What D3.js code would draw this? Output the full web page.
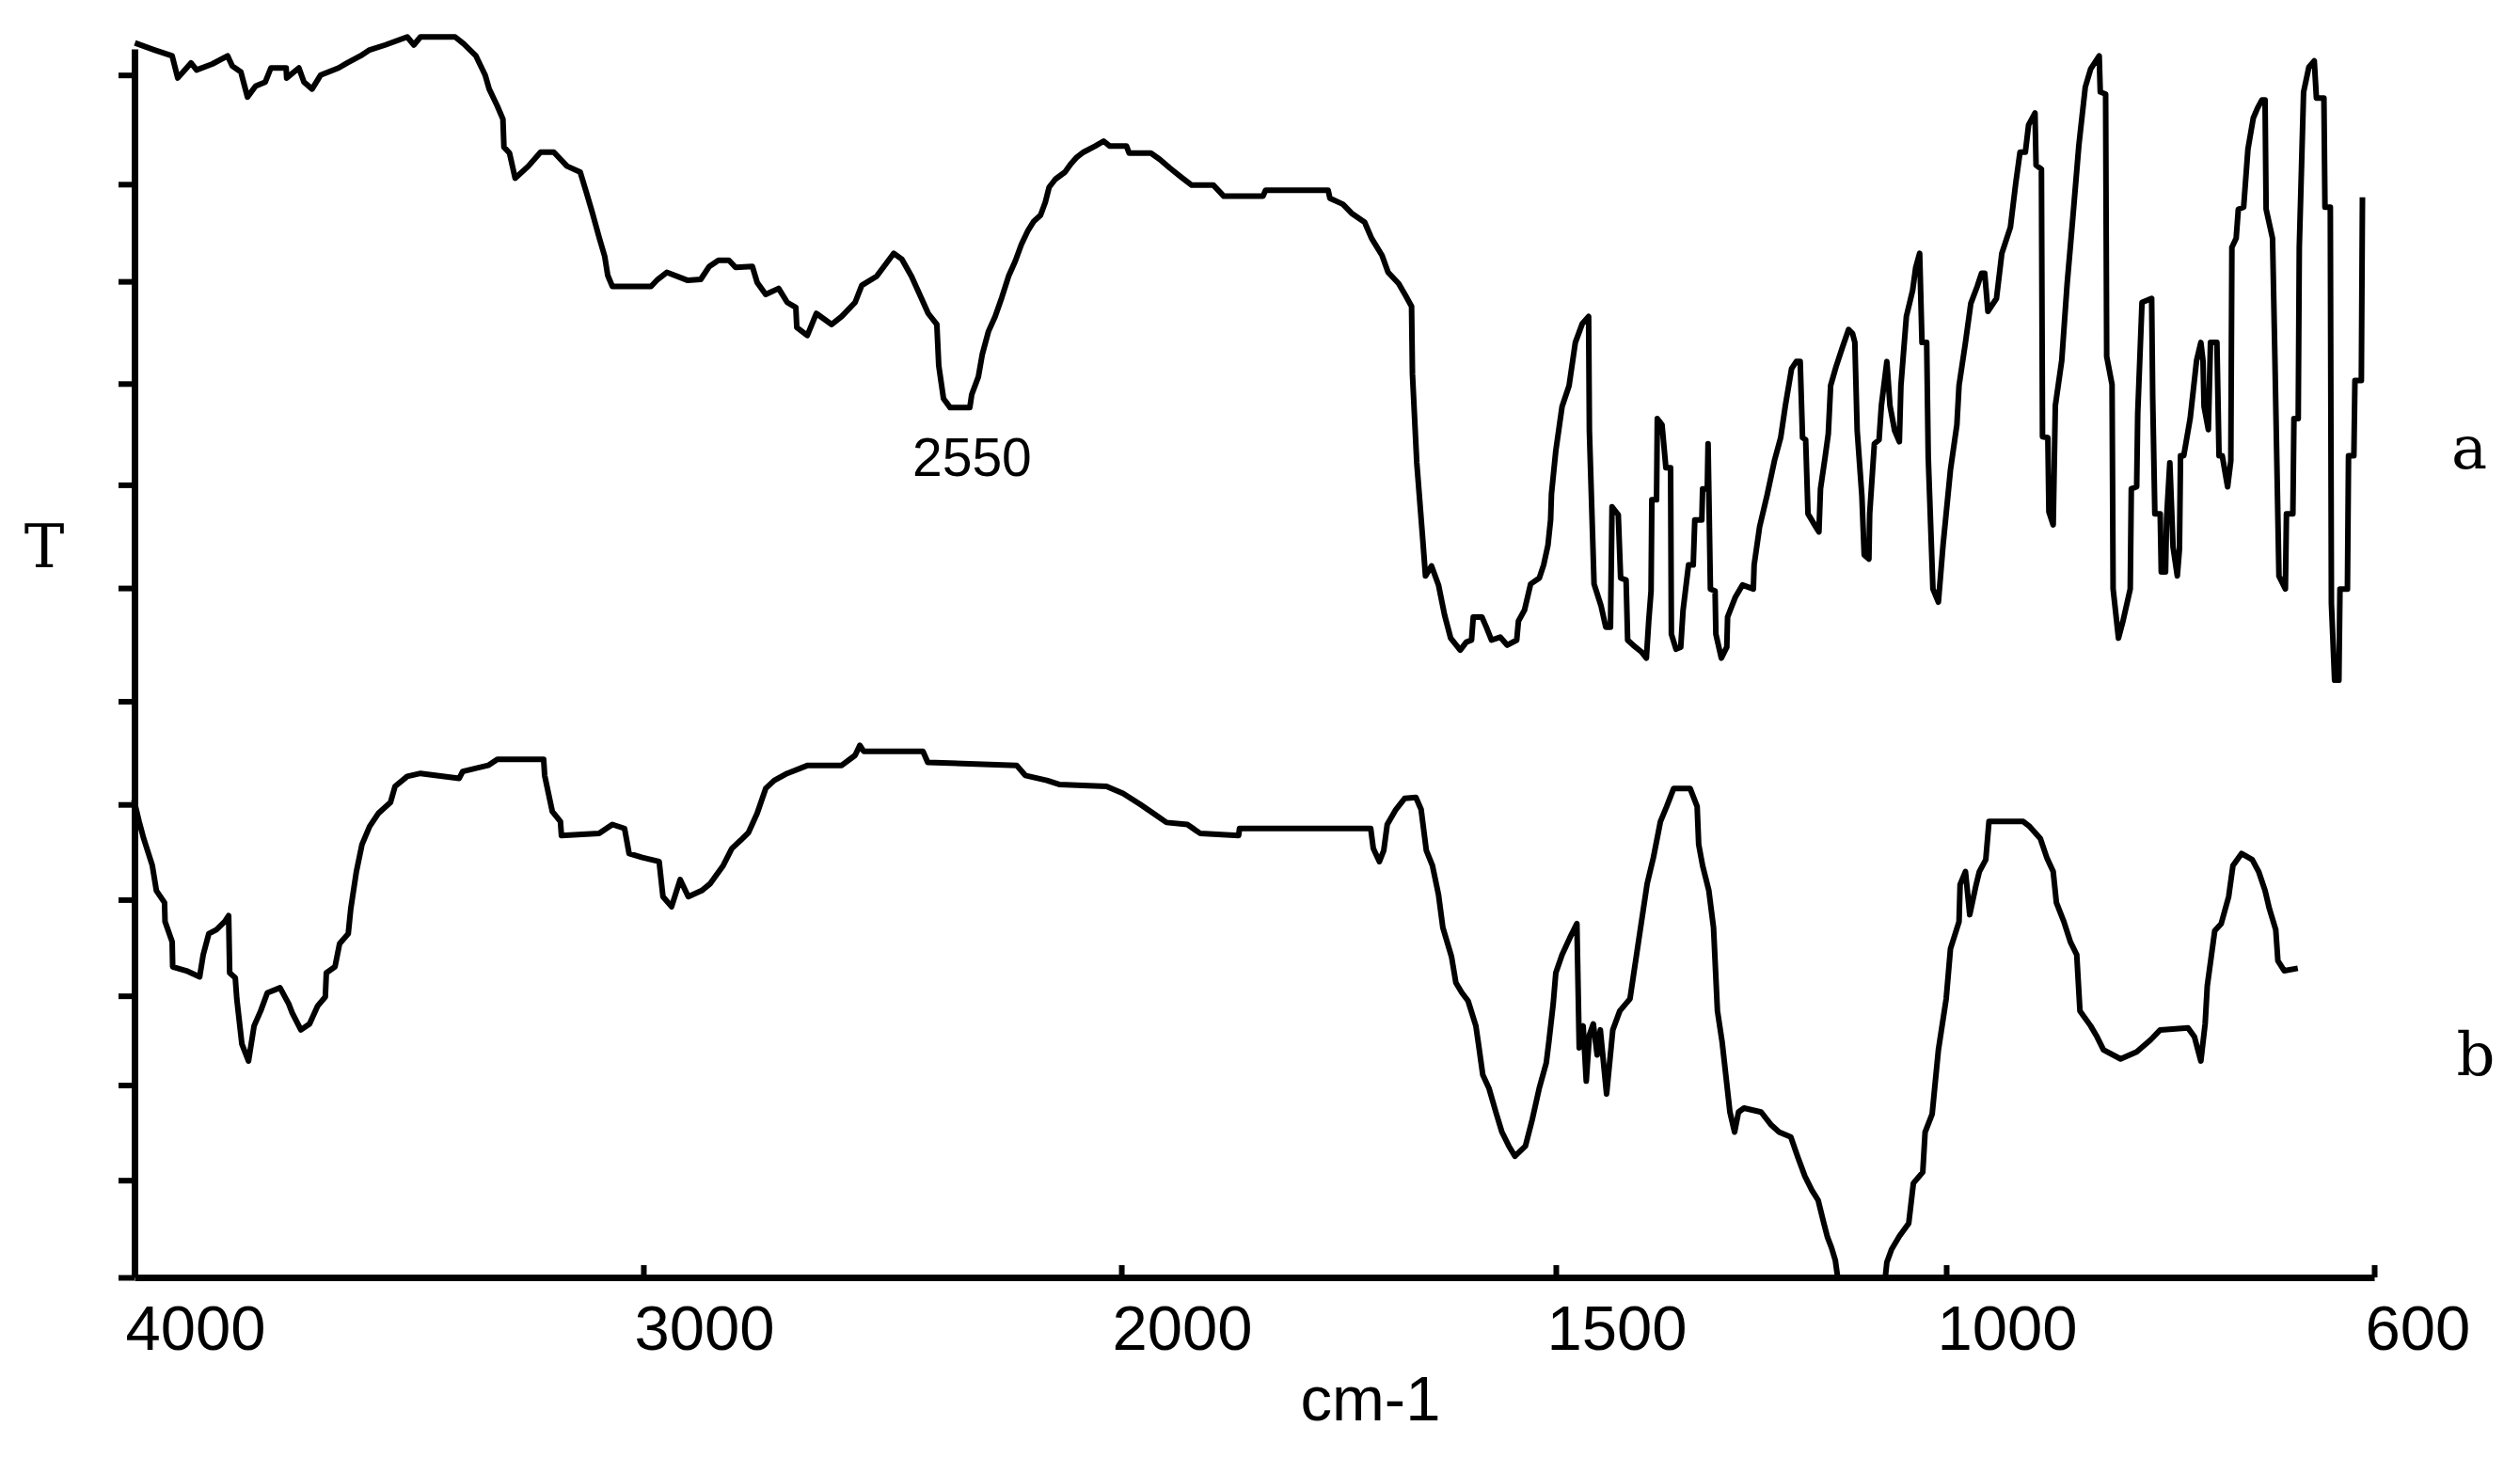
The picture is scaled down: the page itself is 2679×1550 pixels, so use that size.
<!DOCTYPE html>
<html><head><meta charset="utf-8">
<script src="https://cdn.jsdelivr.net/npm/d3@7"></script>
<style>html,body{margin:0;padding:0;background:#fff;} svg{display:block;}</style>
</head><body>
<svg id="chart" width="2679" height="1550"></svg>
<script>
// ---------- data ----------
const xTickValues = [4000, 3000, 2000, 1500, 1000, 600];
const yTickValues = [0, 9.7, 19.2, 28.1, 37.7, 47.2, 57.5, 68.8, 79.1, 89.2, 99.4, 109.1, 120];
const xLabel = "cm-1";
const yLabel = "T";
const seriesNames = ["a", "b"];
const annotationText = "2550";
const annotationAt = [2437, 80];

// curve a: [wavenumber, T]
const seriesA = [[3994,123.1],[3961,122.5],[3926,121.9],[3915,119.7],[3889,121.2],[3878,120.5],[3847,121.1],[3817,121.9],[3808,120.9],[3791,120.3],[3778,117.8],[3762,118.9],[3743,119.3],[3732,120.7],[3702,120.7],[3701,119.7],[3677,120.7],[3667,119.3],[3651,118.6],[3634,120.0],[3599,120.7],[3582,121.2],[3556,121.9],[3538,122.5],[3507,123.0],[3464,123.8],[3451,123.0],[3438,123.8],[3370,123.8],[3353,123.1],[3329,121.9],[3311,120.0],[3303,118.6],[3287,116.9],[3276,115.6],[3274,112.8],[3263,112.2],[3252,109.7],[3226,110.9],[3202,112.3],[3176,112.3],[3150,110.9],[3124,110.3],[3111,108.1],[3100,106.2],[3087,103.8],[3076,101.9],[3070,100.0],[3061,98.9],[2984,98.9],[2970,99.6],[2951,100.3],[2907,99.5],[2880,99.6],[2862,100.9],[2843,101.5],[2821,101.5],[2807,100.8],[2772,100.9],[2762,99.3],[2744,98.1],[2717,98.7],[2699,97.3],[2681,96.8],[2679,94.8],[2657,94.0],[2638,96.2],[2606,95.1],[2585,95.9],[2557,97.3],[2543,99.0],[2512,99.9],[2498,100.8],[2476,102.2],[2459,101.6],[2439,99.9],[2421,98.0],[2404,96.2],[2386,95.1],[2382,91.0],[2372,87.7],[2358,86.8],[2317,86.8],[2313,88.1],[2299,89.9],[2291,92.1],[2278,94.4],[2264,95.9],[2250,97.8],[2236,99.9],[2222,101.4],[2209,103.1],[2195,104.5],[2183,105.4],[2169,106.0],[2159,107.3],[2151,108.8],[2138,109.6],[2118,110.3],[2106,111.1],[2093,111.8],[2079,112.3],[2055,112.9],[2037,113.4],[2024,112.9],[1994,112.9],[1991,112.2],[1966,112.2],[1956,111.6],[1944,110.7],[1931,109.8],[1919,109.0],[1894,109.0],[1882,107.9],[1837,107.9],[1834,108.5],[1762,108.5],[1760,107.7],[1745,107.1],[1735,106.2],[1720,105.3],[1712,103.7],[1700,102.0],[1693,100.3],[1681,99.2],[1673,98.0],[1666,96.9],[1665,90.2],[1660,81.3],[1653,73.5],[1650,70.0],[1643,71.0],[1635,69.1],[1628,66.1],[1621,63.8],[1610,62.6],[1603,63.4],[1597,63.6],[1595,65.9],[1585,65.9],[1580,64.9],[1574,63.6],[1564,63.9],[1556,63.1],[1545,63.6],[1543,65.5],[1536,66.6],[1529,69.2],[1519,69.8],[1514,71.1],[1509,73.1],[1506,75.6],[1505,78.2],[1500,82.5],[1492,86.9],[1483,89.0],[1475,93.3],[1466,95.2],[1458,95.9],[1457,84.5],[1451,69.2],[1442,67.0],[1436,64.9],[1430,64.9],[1428,76.9],[1420,76.1],[1417,69.8],[1410,69.6],[1408,63.6],[1401,63.1],[1390,62.4],[1384,61.8],[1381,65.5],[1378,68.5],[1377,77.6],[1371,77.6],[1370,85.7],[1364,85.1],[1359,80.8],[1353,80.8],[1352,64.2],[1346,62.7],[1340,62.9],[1337,66.6],[1330,71.1],[1324,71.1],[1322,75.6],[1313,75.6],[1312,78.7],[1306,78.7],[1305,83.2],[1302,68.7],[1296,68.5],[1295,64.2],[1288,61.8],[1281,62.9],[1280,65.9],[1270,67.9],[1261,69.1],[1247,68.7],[1246,71.1],[1239,74.9],[1229,78.2],[1220,81.5],[1212,83.8],[1206,87.0],[1198,90.7],[1192,91.4],[1187,91.4],[1184,83.8],[1180,83.6],[1177,76.2],[1167,74.9],[1163,74.4],[1161,78.7],[1155,81.9],[1151,84.2],[1148,89.0],[1141,90.9],[1133,92.8],[1125,94.6],[1120,94.2],[1117,93.3],[1114,84.5],[1108,78.0],[1105,72.1],[1099,71.7],[1098,76.2],[1092,83.2],[1086,83.6],[1083,87.0],[1076,91.4],[1072,87.0],[1066,84.5],[1060,83.4],[1058,89.0],[1051,95.9],[1043,98.5],[1039,100.8],[1034,102.2],[1031,93.3],[1025,93.3],[1023,81.9],[1017,68.7],[1010,67.4],[1004,73.1],[996,80.6],[990,85.1],[988,89.0],[982,93.3],[977,97.2],[971,98.9],[967,100.2],[964,100.2],[961,96.4],[953,97.7],[948,102.2],[940,104.8],[935,109.2],[931,112.3],[926,112.3],[923,115.0],[917,116.2],[916,111.0],[911,110.6],[910,83.9],[905,83.8],[904,76.4],[900,75.1],[898,87.0],[892,91.5],[887,99.1],[882,105.3],[876,113.0],[870,118.8],[865,120.6],[857,121.9],[856,118.3],[851,118.1],[850,91.9],[845,89.1],[844,68.7],[839,63.8],[835,65.4],[828,68.7],[827,78.7],[822,78.9],[821,86.2],[817,97.3],[808,97.7],[807,87.8],[805,76.2],[800,76.2],[799,70.4],[795,70.4],[794,75.8],[791,81.3],[789,75.8],[788,72.9],[784,70.0],[782,72.7],[781,82.0],[778,82.0],[772,85.7],[766,91.5],[762,93.3],[760,91.5],[759,86.9],[755,84.6],[753,93.3],[747,93.3],[745,82.0],[742,82.0],[737,78.9],[734,81.5],[733,102.8],[729,103.7],[727,106.6],[722,106.8],[718,112.6],[713,115.7],[709,116.7],[705,117.5],[702,117.5],[701,106.6],[695,103.7],[693,92.9],[689,70.0],[683,68.7],[682,76.2],[676,76.2],[675,85.7],[671,85.7],[670,102.8],[666,118.3],[661,120.8],[656,121.4],[654,117.7],[647,117.7],[646,106.8],[641,106.8],[640,67.3],[637,59.6],[633,59.6],[632,68.7],[625,68.7],[624,82.0],[619,82.0],[618,89.5],[612,89.5],[611,107.5]];

// curve b: [wavenumber, T]
const seriesB = [[4000,47.4],[3991,45.5],[3982,43.8],[3965,41.1],[3957,38.6],[3941,37.4],[3940,35.5],[3926,33.5],[3925,31.0],[3898,30.6],[3872,30.0],[3865,32.2],[3854,34.3],[3839,34.7],[3823,35.5],[3815,36.1],[3813,30.4],[3802,29.9],[3799,27.8],[3789,23.3],[3776,21.6],[3765,25.1],[3752,26.6],[3739,28.4],[3714,28.9],[3697,27.3],[3690,26.4],[3673,24.7],[3656,25.3],[3640,27.1],[3625,28.0],[3623,30.4],[3606,31.0],[3597,33.3],[3580,34.3],[3575,36.8],[3564,40.5],[3553,43.2],[3538,45.0],[3521,46.3],[3497,47.4],[3488,49.0],[3464,50.0],[3438,50.3],[3362,49.8],[3355,50.5],[3305,51.1],[3287,51.7],[3196,51.7],[3194,50.1],[3179,46.5],[3163,45.5],[3161,44.1],[3087,44.3],[3061,45.2],[3037,44.8],[3028,42.3],[3002,41.9],[2967,41.5],[2959,38.0],[2941,37.0],[2923,39.7],[2906,38.0],[2878,38.6],[2860,39.3],[2833,41.1],[2815,42.8],[2797,43.6],[2780,44.4],[2762,46.3],[2744,48.8],[2726,49.6],[2699,50.3],[2656,51.1],[2585,51.1],[2557,52.1],[2547,53.1],[2539,52.5],[2415,52.5],[2405,51.4],[2219,51.1],[2201,50.1],[2156,49.6],[2130,49.2],[2031,49.0],[1998,48.3],[1978,47.2],[1963,46.3],[1948,45.4],[1924,45.2],[1909,44.3],[1865,44.1],[1864,44.8],[1713,44.8],[1710,42.8],[1703,41.5],[1698,42.6],[1694,45.2],[1684,46.7],[1674,47.8],[1661,47.9],[1655,46.7],[1649,42.6],[1642,41.1],[1635,38.2],[1630,34.9],[1620,32.0],[1615,29.4],[1608,28.4],[1601,27.6],[1592,25.1],[1589,23.3],[1584,20.2],[1577,18.9],[1569,16.5],[1562,14.5],[1554,13.1],[1547,12.1],[1535,13.1],[1527,15.8],[1519,18.9],[1511,21.4],[1508,23.5],[1503,27.3],[1500,30.4],[1492,32.2],[1482,33.9],[1473,35.3],[1470,22.9],[1465,25.1],[1461,19.6],[1457,24.2],[1452,25.3],[1447,22.2],[1443,24.7],[1435,18.3],[1427,24.7],[1418,26.6],[1405,27.8],[1401,29.9],[1392,34.6],[1383,39.3],[1375,41.9],[1366,45.5],[1358,47.0],[1349,48.8],[1328,48.8],[1319,47.0],[1317,43.2],[1312,41.1],[1304,38.6],[1298,34.9],[1293,26.6],[1287,23.5],[1277,16.5],[1271,14.5],[1266,16.5],[1259,16.9],[1237,16.5],[1224,15.2],[1214,14.5],[1199,14.0],[1190,12.0],[1181,10.1],[1172,8.7],[1164,7.7],[1157,5.5],[1152,4.0],[1147,3.0],[1142,1.7],[1139,0],[1078,0],[1076,1.5],[1070,2.8],[1060,4.1],[1048,5.4],[1042,9.4],[1030,10.5],[1027,14.5],[1018,16.3],[1010,22.7],[1000,27.8],[996,32.8],[988,35.5],[987,39.2],[982,40.5],[978,36.2],[972,39.2],[969,40.5],[963,41.7],[960,45.5],[928,45.5],[922,45.0],[912,43.8],[906,41.9],[900,40.5],[897,37.4],[890,35.5],[884,33.5],[878,32.2],[875,26.6],[865,25.1],[859,24.0],[853,22.7],[837,21.8],[822,22.5],[809,23.7],[800,24.7],[774,24.9],[768,24.0],[762,21.6],[758,25.3],[756,29.1],[749,34.6],[743,35.3],[736,38.0],[732,41.1],[724,42.3],[714,41.7],[708,40.5],[702,38.6],[698,36.8],[692,34.7],[690,31.6],[684,30.6],[674,30.8]];

// ---------- layout ----------
const W = 2679, H = 1550;
const plot = {left: 143, right: 2524, top: 52, bottom: 1358};
const xBreakFrac = [0, 0.2272, 0.4406, 0.6346, 0.8089, 1];

const svg = d3.select("#chart");
svg.append("rect").attr("width", W).attr("height", H).attr("fill", "#fff");

const x = d3.scaleLinear()
  .domain(xTickValues)
  .range(xBreakFrac.map(f => plot.left + f * (plot.right - plot.left)));
const y = d3.scaleLinear().domain([0, 122.6]).range([plot.bottom, plot.top]);

// axes
const gx = svg.append("g").attr("transform", `translate(0,${plot.bottom})`)
  .call(d3.axisBottom(x).tickValues(xTickValues).tickSizeInner(-13).tickSizeOuter(0).tickFormat(d3.format("d")));
gx.select(".domain").attr("stroke", "#000").attr("stroke-width", 7);
gx.selectAll(".tick line").attr("stroke", "#000").attr("stroke-width", 6);
gx.selectAll(".tick text")
  .attr("text-anchor", "start").attr("x", -10).attr("y", 77).attr("dy", 0)
  .attr("fill", "#000")
  .style("font-family", "'Liberation Sans', Arial, sans-serif").style("font-size", "67px");

const gy = svg.append("g").attr("transform", `translate(${plot.left},0)`)
  .call(d3.axisLeft(y).tickValues(yTickValues).tickSize(17).tickSizeOuter(0).tickFormat(""));
gy.select(".domain").attr("stroke", "#000").attr("stroke-width", 7);
gy.selectAll(".tick line").attr("stroke", "#000").attr("stroke-width", 6);

// curves
const line = d3.line().x(d => x(d[0])).y(d => y(d[1]));
[seriesA, seriesB].forEach(s => {
  svg.append("path").datum(s)
    .attr("d", line)
    .attr("fill", "none").attr("stroke", "#000")
    .attr("stroke-width", 6).attr("stroke-linejoin", "round").attr("stroke-linecap", "square");
});

// texts
svg.append("text").attr("x", x(annotationAt[0])).attr("y", y(annotationAt[1]))
  .attr("text-anchor", "start")
  .style("font-family", "'Liberation Sans', Arial, sans-serif").style("font-size", "57px")
  .text(annotationText);

svg.append("text").attr("x", 1457).attr("y", 1510).attr("text-anchor", "middle")
  .style("font-family", "'Liberation Sans', Arial, sans-serif").style("font-size", "67px")
  .text(xLabel);

svg.append("text").attr("x", 47).attr("y", 603).attr("text-anchor", "middle")
  .style("font-family", "'DejaVu Serif', serif").style("font-size", "64px")
  .text(yLabel);

const nameY = [498, 1143];
const nameX = [2625, 2632];
seriesNames.forEach((n, i) => {
  svg.append("text").attr("x", nameX[i]).attr("y", nameY[i]).attr("text-anchor", "middle")
    .style("font-family", "'DejaVu Serif', serif").style("font-size", "64px")
    .text(n);
});
</script>
</body></html>
